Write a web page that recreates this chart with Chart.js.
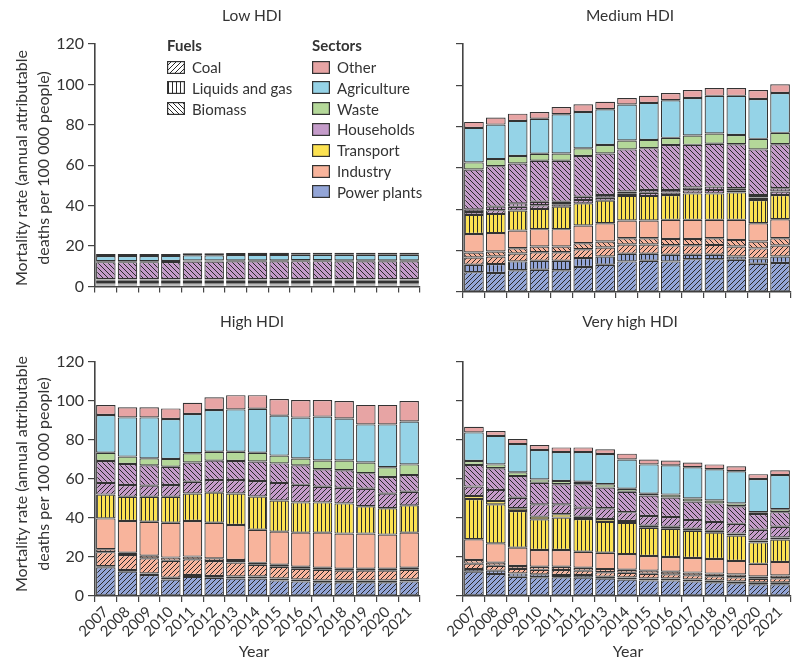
<!DOCTYPE html>
<html>
<head>
<meta charset="utf-8">
<script src="https://cdn.jsdelivr.net/npm/chart.js@4.4.1/dist/chart.umd.min.js"></script>
<style>
  body { margin: 0; background: #fff; font-family: Lato, "Noto Sans", sans-serif; color: #333; }
  #wrap { position: relative; width: 800px; height: 666px; overflow: hidden; }
  canvas.panel { position: absolute; }
  .ptitle { position: absolute; font-size: 15.5px; transform: translateX(-50%); white-space: nowrap; }
  .ytitle { position: absolute; font-size: 16px; line-height: 22px; text-align: center; white-space: nowrap;
            transform: translate(-50%, -50%) rotate(-90deg); }
  .xtitle { position: absolute; font-size: 16px; transform: translate(-50%, -50%); }
  .lg { position: absolute; font-size: 15px; white-space: nowrap; }
  .lg b { font-weight: bold; }
  .lg .row { position: absolute; left: 0; height: 20px; display: flex; align-items: center; }
  .lg canvas { margin-right: 7px; }
</style>
</head>
<body>
<div id="wrap">
  <canvas class="panel" id="low" width="430" height="300" style="left:0;top:0"></canvas>
  <canvas class="panel" id="med" width="400" height="300" style="left:400px;top:0"></canvas>
  <canvas class="panel" id="high" width="430" height="356" style="left:0;top:310px"></canvas>
  <canvas class="panel" id="vhigh" width="400" height="356" style="left:400px;top:310px"></canvas>

  <div class="ptitle" style="left:252px;top:6px">Low HDI</div>
  <div class="ptitle" style="left:630px;top:6px">Medium HDI</div>
  <div class="ptitle" style="left:252px;top:312px">High HDI</div>
  <div class="ptitle" style="left:630px;top:312px">Very high HDI</div>

  <div class="ytitle" style="left:32px;top:168px">Mortality rate (annual attributable<br>deaths per 100 000 people)</div>
  <div class="ytitle" style="left:32px;top:474px">Mortality rate (annual attributable<br>deaths per 100 000 people)</div>

  <div class="xtitle" style="left:254px;top:650px">Year</div>
  <div class="xtitle" style="left:628px;top:650px">Year</div>

  <div class="lg" id="fuelLegend" style="left:167px;top:36px"></div>
  <div class="lg" id="sectorLegend" style="left:312px;top:36px"></div>
</div>
<script>
const years = ['2007', '2008', '2009', '2010', '2011', '2012', '2013', '2014', '2015', '2016', '2017', '2018', '2019', '2020', '2021'];
const yTicks = [0, 20, 40, 60, 80, 100, 120];

// Low HDI
const lowPowerCoal = [0.5, 0.5, 0.5, 0.5, 0.5, 0.5, 0.5, 0.5, 0.5, 0.5, 0.5, 0.5, 0.5, 0.5, 0.5];
const lowPowerGas = [0.3, 0.3, 0.3, 0.3, 0.3, 0.3, 0.3, 0.3, 0.3, 0.3, 0.3, 0.3, 0.3, 0.3, 0.3];
const lowIndCoal = [0.3, 0.3, 0.3, 0.3, 0.3, 0.3, 0.3, 0.3, 0.3, 0.3, 0.3, 0.3, 0.3, 0.3, 0.3];
const lowIndBio = [0.4, 0.4, 0.4, 0.4, 0.4, 0.4, 0.4, 0.4, 0.4, 0.4, 0.4, 0.4, 0.4, 0.4, 0.4];
const lowIndOther = [0.7, 0.7, 0.7, 0.7, 0.7, 0.7, 0.7, 0.7, 0.7, 0.7, 0.7, 0.7, 0.7, 0.7, 0.7];
const lowTransGas = [0.8, 0.8, 0.8, 0.8, 0.8, 0.8, 0.8, 0.8, 0.8, 0.8, 0.8, 0.8, 0.8, 0.8, 0.8];
const lowHhCoal = [0.3, 0.3, 0.3, 0.3, 0.3, 0.3, 0.3, 0.3, 0.3, 0.3, 0.3, 0.3, 0.3, 0.3, 0.3];
const lowHhGas = [0.3, 0.3, 0.3, 0.3, 0.3, 0.3, 0.3, 0.3, 0.3, 0.3, 0.3, 0.3, 0.3, 0.3, 0.3];
const lowHhBio = [8.4, 8.4, 8.4, 8.5, 8.7, 8.7, 8.8, 8.8, 8.8, 8.9, 8.9, 8.8, 8.8, 8.8, 8.8];
const lowWaste = [0.5, 0.5, 0.5, 0.5, 0.5, 0.5, 0.5, 0.5, 0.5, 0.5, 0.5, 0.5, 0.5, 0.5, 0.5];
const lowAgri = [2.5, 2.5, 2.5, 2.5, 2.6, 2.6, 2.6, 2.7, 2.7, 2.7, 2.7, 2.8, 2.8, 2.8, 2.8];
const lowOther = [1.0, 1.0, 1.0, 1.0, 1.0, 1.0, 1.0, 1.0, 1.0, 1.0, 1.0, 1.0, 1.0, 1.0, 1.0];

// Medium HDI
const medPowerCoal = [9.6, 9.2, 10.5, 10.8, 10.5, 12.1, 13.2, 14.8, 15.1, 14.8, 15.9, 15.9, 15.6, 13.7, 14.0];
const medPowerGas = [3.6, 4.3, 4.3, 4.3, 4.6, 4.3, 4.0, 3.7, 3.4, 3.2, 2.1, 2.1, 1.6, 2.5, 3.2];
const medIndCoal = [3.5, 3.7, 3.8, 4.1, 4.1, 4.3, 4.3, 4.5, 4.5, 4.6, 4.6, 4.8, 4.8, 4.9, 5.3];
const medIndBio = [2.4, 2.4, 2.6, 2.8, 2.8, 2.9, 2.9, 3.0, 3.0, 3.1, 3.1, 3.2, 3.2, 3.3, 3.5];
const medIndOther = [9.0, 8.9, 8.5, 8.4, 8.4, 8.6, 8.9, 8.6, 8.6, 9.2, 9.2, 8.9, 9.7, 8.9, 9.2];
const medTransGas = [9.2, 9.3, 9.7, 9.8, 10.9, 10.7, 10.9, 11.9, 11.9, 12.0, 12.8, 12.8, 13.3, 11.2, 11.7];
const medHhCoal = [1.4, 1.8, 1.8, 1.8, 1.2, 1.6, 1.4, 1.1, 1.5, 1.3, 1.5, 1.7, 1.0, 1.2, 1.7];
const medHhGas = [1.3, 1.7, 1.7, 1.7, 1.2, 1.6, 1.3, 1.0, 1.4, 1.2, 1.4, 1.6, 1.0, 1.2, 1.6];
const medHhBio = [19.3, 19.6, 19.3, 19.8, 19.8, 19.7, 20.1, 20.4, 20.2, 21.7, 20.6, 20.7, 21.3, 22.1, 21.3];
const medWaste = [3.4, 3.4, 3.6, 3.4, 3.5, 3.7, 4.1, 4.3, 4.0, 3.5, 4.5, 5.0, 4.5, 5.1, 5.5];
const medAgri = [16.7, 16.7, 17.0, 16.9, 19.0, 17.6, 17.3, 17.4, 17.9, 18.2, 18.2, 18.2, 18.9, 19.3, 19.3];
const medOther = [2.9, 3.4, 3.5, 3.3, 3.5, 3.7, 3.6, 3.2, 3.4, 3.5, 3.8, 3.8, 3.8, 4.3, 4.2];

// High HDI
const highPowerCoal = [14.7, 12.5, 10.8, 8.4, 9.8, 9.3, 9.0, 9.0, 8.0, 7.5, 7.0, 7.0, 7.0, 7.0, 7.5];
const highPowerGas = [0.6, 0.8, 0.8, 1.0, 1.0, 1.0, 1.0, 1.0, 1.0, 1.0, 1.0, 1.0, 1.0, 1.0, 1.0];
const highIndCoal = [7.2, 7.7, 7.7, 8.7, 8.0, 7.6, 7.2, 6.0, 6.0, 5.5, 5.5, 5.0, 5.0, 5.0, 5.0];
const highIndBio = [1.5, 1.2, 1.4, 1.6, 1.4, 1.4, 1.3, 1.0, 1.0, 1.0, 1.0, 1.0, 1.0, 1.0, 1.0];
const highIndOther = [15.8, 16.3, 17.4, 17.9, 18.3, 18.3, 17.9, 17.0, 17.0, 17.5, 18.0, 18.0, 18.0, 17.5, 18.0];
const highTransGas = [12.2, 12.4, 12.8, 13.3, 14.1, 15.4, 16.2, 17.0, 16.0, 15.5, 15.5, 15.5, 14.0, 13.5, 14.0];
const highHhCoal = [6.0, 6.0, 5.7, 6.0, 6.0, 6.5, 6.9, 8.0, 9.0, 9.0, 8.0, 8.0, 9.0, 7.5, 7.0];
const highHhBio = [11.2, 10.8, 10.4, 9.4, 9.9, 9.9, 9.7, 10.0, 10.0, 10.0, 9.0, 9.0, 8.0, 8.5, 8.5];
const highWaste = [4.3, 3.8, 3.6, 4.0, 4.7, 4.6, 4.8, 4.5, 4.0, 3.5, 4.5, 5.0, 5.5, 5.0, 5.5];
const highAgri = [19.3, 20.1, 21.0, 20.5, 20.1, 21.4, 21.7, 22.5, 20.5, 21.0, 22.5, 21.5, 19.5, 22.0, 22.0];
const highOther = [5.1, 5.2, 5.2, 5.4, 5.8, 6.5, 7.3, 7.0, 8.5, 9.0, 8.5, 9.0, 10.0, 10.0, 10.5];

// Very high HDI
const vhPowerCoal = [12.5, 11.3, 9.9, 9.6, 9.6, 9.4, 8.9, 8.5, 8.0, 8.0, 7.5, 7.0, 6.5, 6.0, 6.0];
const vhPowerGas = [1.3, 1.7, 1.7, 1.5, 1.2, 1.4, 1.0, 1.0, 1.0, 1.0, 1.0, 1.0, 1.0, 1.0, 1.0];
const vhIndCoal = [2.8, 2.5, 2.3, 2.3, 2.5, 2.2, 2.3, 2.4, 2.4, 2.1, 2.1, 2.1, 2.1, 1.8, 2.1];
const vhIndBio = [1.9, 1.6, 1.5, 1.6, 1.7, 1.5, 1.6, 1.6, 1.6, 1.4, 1.4, 1.4, 1.4, 1.2, 1.4];
const vhIndOther = [10.6, 9.9, 9.4, 8.6, 8.6, 8.2, 8.4, 8.0, 7.5, 7.5, 7.5, 7.5, 7.0, 6.5, 7.0];
const vhTransGas = [20.6, 20.0, 18.8, 15.7, 16.6, 16.8, 15.8, 16.0, 14.5, 14.5, 14.0, 13.5, 13.0, 11.0, 11.5];
const vhTransOther = [1.6, 1.7, 1.4, 1.4, 1.7, 1.2, 1.5, 1.0, 1.0, 1.0, 1.0, 1.0, 1.0, 1.0, 1.0];
const vhHhCoal = [4.8, 5.7, 5.4, 6.3, 5.1, 4.6, 5.5, 4.5, 5.0, 5.0, 4.5, 4.5, 5.0, 5.5, 5.5];
const vhHhBio = [11.1, 11.1, 11.1, 11.1, 10.3, 12.0, 10.6, 10.5, 10.5, 10.0, 9.5, 9.5, 9.0, 8.0, 7.5];
const vhWaste = [2.0, 2.0, 1.9, 1.7, 1.7, 1.3, 1.7, 1.5, 1.0, 1.5, 1.5, 1.5, 1.5, 1.0, 1.5];
const vhAgri = [14.7, 14.6, 14.5, 15.1, 14.8, 15.2, 15.5, 15.0, 15.0, 15.0, 16.0, 16.0, 16.5, 17.0, 17.5];
const vhOther = [2.9, 2.5, 2.6, 2.5, 2.4, 2.4, 2.4, 3.0, 2.5, 2.5, 2.5, 2.5, 2.5, 2.5, 2.5];

const sectorNames = ['Other', 'Agriculture', 'Waste', 'Households', 'Transport', 'Industry', 'Power plants'];
const fuelNames = ['Coal', 'Liquids and gas', 'Biomass'];

const col = {
  power: '#93a5d7',
  industry: '#f8b49c',
  transport: '#fce251',
  households: '#c49bc9',
  waste: '#b4d899',
  agriculture: '#95d3e7',
  other: '#e7a4a4'
};
const ink = '#333333';

function makePattern(color, kind) {
  const s = kind === 'liq' ? 4 : 5;
  const c = document.createElement('canvas');
  c.width = s; c.height = s;
  const x = c.getContext('2d');
  x.fillStyle = color;
  x.fillRect(0, 0, s, s);
  if (kind) {
    x.strokeStyle = '#2a2a2a';
    x.lineWidth = 1;
    x.beginPath();
    if (kind === 'coal') {
      x.moveTo(0, s); x.lineTo(s, 0);
      x.moveTo(-1, 1); x.lineTo(1, -1);
      x.moveTo(s - 1, s + 1); x.lineTo(s + 1, s - 1);
    } else if (kind === 'bio') {
      x.moveTo(0, 0); x.lineTo(s, s);
      x.moveTo(-1, s - 1); x.lineTo(1, s + 1);
      x.moveTo(s - 1, -1); x.lineTo(s + 1, 1);
    } else {
      x.moveTo(1.5, 0); x.lineTo(1.5, s);
    }
    x.stroke();
  }
  return document.createElement('canvas').getContext('2d').createPattern(c, 'repeat');
}

function seg(data, color, kind) {
  return {
    data: data,
    backgroundColor: kind ? makePattern(color, kind) : color,
    borderColor: ink,
    borderWidth: 1.2,
    borderSkipped: false,
    barPercentage: 0.9,
    categoryPercentage: 1
  };
}

const lowSets = [
  seg(lowPowerCoal, col.power, 'coal'), seg(lowPowerGas, col.power, 'liq'),
  seg(lowIndCoal, col.industry, 'coal'), seg(lowIndBio, col.industry, 'bio'), seg(lowIndOther, col.industry),
  seg(lowTransGas, col.transport, 'liq'),
  seg(lowHhCoal, col.households, 'coal'), seg(lowHhGas, col.households, 'liq'), seg(lowHhBio, col.households, 'bio'),
  seg(lowWaste, col.waste), seg(lowAgri, col.agriculture), seg(lowOther, col.other)
];
const medSets = [
  seg(medPowerCoal, col.power, 'coal'), seg(medPowerGas, col.power, 'liq'),
  seg(medIndCoal, col.industry, 'coal'), seg(medIndBio, col.industry, 'bio'), seg(medIndOther, col.industry),
  seg(medTransGas, col.transport, 'liq'),
  seg(medHhCoal, col.households, 'coal'), seg(medHhGas, col.households, 'liq'), seg(medHhBio, col.households, 'bio'),
  seg(medWaste, col.waste), seg(medAgri, col.agriculture), seg(medOther, col.other)
];
const highSets = [
  seg(highPowerCoal, col.power, 'coal'), seg(highPowerGas, col.power, 'liq'),
  seg(highIndCoal, col.industry, 'coal'), seg(highIndBio, col.industry, 'bio'), seg(highIndOther, col.industry),
  seg(highTransGas, col.transport, 'liq'),
  seg(highHhCoal, col.households, 'coal'), seg(highHhBio, col.households, 'bio'),
  seg(highWaste, col.waste), seg(highAgri, col.agriculture), seg(highOther, col.other)
];
const vhSets = [
  seg(vhPowerCoal, col.power, 'coal'), seg(vhPowerGas, col.power, 'liq'),
  seg(vhIndCoal, col.industry, 'coal'), seg(vhIndBio, col.industry, 'bio'), seg(vhIndOther, col.industry),
  seg(vhTransGas, col.transport, 'liq'), seg(vhTransOther, col.transport),
  seg(vhHhCoal, col.households, 'coal'), seg(vhHhBio, col.households, 'bio'),
  seg(vhWaste, col.waste), seg(vhAgri, col.agriculture), seg(vhOther, col.other)
];

const fontFamily = 'Lato, "Noto Sans", sans-serif';

function panel(id, sets, opt) {
  new Chart(document.getElementById(id), {
    type: 'bar',
    data: { labels: years, datasets: sets },
    options: {
      responsive: false,
      animation: false,
      events: [],
      layout: { padding: { top: opt.top, right: opt.right, left: 0, bottom: 0 } },
      plugins: { legend: { display: false }, tooltip: { enabled: false } },
      scales: {
        x: {
          stacked: true,
          grid: { drawOnChartArea: false, tickLength: 6, color: '#444', lineWidth: 1.2 },
          border: { color: '#444', width: 1.6 },
          ticks: { display: opt.xLabels, autoSkip: false, maxRotation: 45, minRotation: 45,
                   font: { family: fontFamily, size: 15 }, color: '#333', padding: 1 },
          afterFit: s => { s.height = opt.xh; }
        },
        y: {
          stacked: true,
          min: 0, max: 120,
          afterBuildTicks: s => { s.ticks = yTicks.map(v => ({ value: v })); },
          grid: { drawOnChartArea: false, tickLength: 7, color: '#444', lineWidth: 1.2 },
          border: { color: '#444', width: 1.6 },
          ticks: { display: opt.yLabels, font: { family: fontFamily, size: 16 }, color: '#333', padding: 4 },
          afterFit: s => { s.width = opt.yw; }
        }
      }
    }
  });
}

panel('low', lowSets, { top: 44, right: 10, xh: 8, yw: 95, xLabels: false, yLabels: true });
panel('med', medSets, { top: 44, right: 9, xh: 8, yw: 63, xLabels: false, yLabels: false });
panel('high', highSets, { top: 52, right: 10, xh: 70, yw: 95, xLabels: true, yLabels: true });
panel('vhigh', vhSets, { top: 52, right: 9, xh: 70, yw: 63, xLabels: true, yLabels: false });

// legends
function swatch(fill) {
  const c = document.createElement('canvas');
  c.width = 18; c.height = 13;
  const x = c.getContext('2d');
  x.fillStyle = fill;
  x.fillRect(0, 0, 18, 13);
  x.strokeStyle = ink;
  x.lineWidth = 1.2;
  x.strokeRect(0.6, 0.6, 16.8, 11.8);
  return c;
}
function legend(id, title, items) {
  const box = document.getElementById(id);
  const h = document.createElement('b');
  h.textContent = title;
  box.appendChild(h);
  items.forEach((it, i) => {
    const r = document.createElement('div');
    r.className = 'row';
    r.style.top = (21 + i * 20.8) + 'px';
    r.appendChild(swatch(it[1]));
    const t = document.createElement('span');
    t.textContent = it[0];
    r.appendChild(t);
    box.appendChild(r);
  });
}
legend('fuelLegend', 'Fuels', [
  [fuelNames[0], makePattern('#ffffff', 'coal')],
  [fuelNames[1], makePattern('#ffffff', 'liq')],
  [fuelNames[2], makePattern('#ffffff', 'bio')]
]);
legend('sectorLegend', 'Sectors', [
  [sectorNames[0], col.other], [sectorNames[1], col.agriculture], [sectorNames[2], col.waste],
  [sectorNames[3], col.households], [sectorNames[4], col.transport], [sectorNames[5], col.industry],
  [sectorNames[6], col.power]
]);
</script>
</body>
</html>
